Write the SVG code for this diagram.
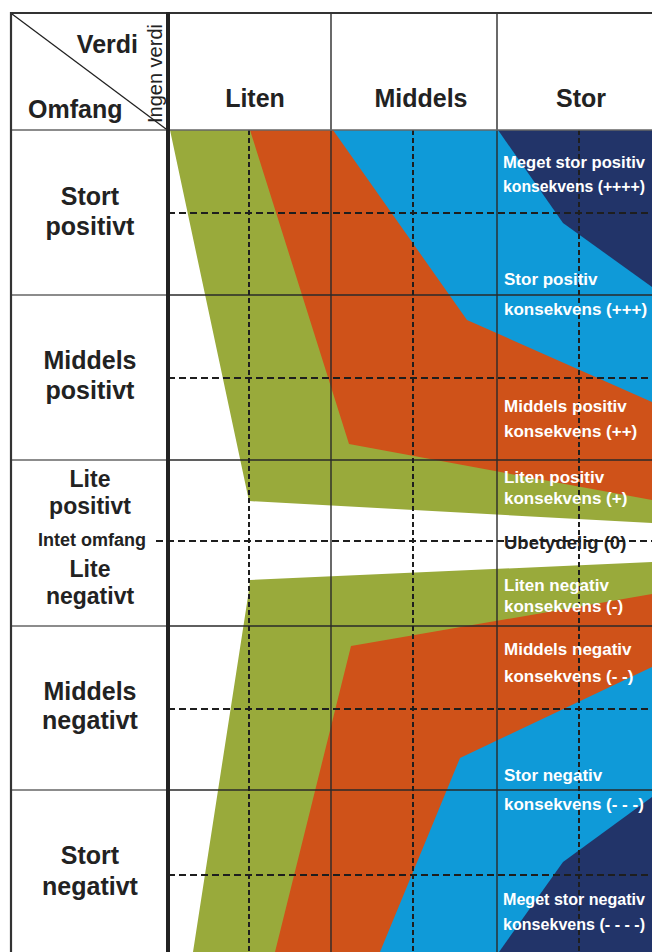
<svg xmlns="http://www.w3.org/2000/svg" width="652" height="952" viewBox="0 0 652 952">
<style>
.lbl{font-family:"Liberation Sans",Arial,sans-serif;font-weight:bold;font-size:25px;fill:#222;}
.sm{font-size:23px;}
.mid{text-anchor:middle;}
.cons{font-family:"Liberation Sans",Arial,sans-serif;font-weight:bold;font-size:17px;fill:#fff;}
.fit{font-size:16.5px;}
.sol{stroke:#2a2a2a;stroke-width:1.4;fill:none;}
.gry{stroke:#666;stroke-width:1.4;fill:none;}
.dh{stroke:#1e1e1e;stroke-width:2;stroke-dasharray:7 4;fill:none;}
.dv{stroke:#1e1e1e;stroke-width:2;stroke-dasharray:5 3;fill:none;}
</style>
<rect width="652" height="952" fill="#fff"/>
<g id="regions">
<rect x="168" y="130" width="484" height="822" fill="#0f9ad8"/>
<polygon points="498,130 652,130 652,287 563,223" fill="#223469"/>
<polygon points="652,797 652,952 499,952 563,862" fill="#223469"/>
<polygon points="168,130 333,130 467,320 652,402 652,667 460,758 380,952 168,952" fill="#cf5219"/>
<polygon points="168,130 250,130 349,444 652,500 652,594 351,646 275,952 168,952" fill="#99aa3b"/>
<polygon points="168,130 170,130 249,501 652,523 652,562 250,580 249,590 193,952 168,952" fill="#fff"/>
</g>
<g id="grid">
<line class="gry" x1="11" y1="295" x2="168" y2="295"/>
<line class="gry" x1="11" y1="460" x2="168" y2="460"/>
<line class="gry" x1="11" y1="626" x2="168" y2="626"/>
<line class="gry" x1="11" y1="790" x2="168" y2="790"/>
<line class="sol" x1="168" y1="295" x2="652" y2="295"/>
<line class="sol" x1="168" y1="460" x2="652" y2="460"/>
<line class="sol" x1="168" y1="626" x2="652" y2="626"/>
<line class="sol" x1="168" y1="790" x2="652" y2="790"/>
<line class="sol" x1="331" y1="13" x2="331" y2="952"/>
<line class="sol" x1="497" y1="13" x2="497" y2="952"/>
<line class="dh" x1="168" y1="213" x2="652" y2="213"/>
<line class="dh" x1="168" y1="378" x2="652" y2="378"/>
<line class="dh" x1="168" y1="709" x2="652" y2="709"/>
<line class="dh" x1="168" y1="875" x2="652" y2="875"/>
<line class="dv" x1="249" y1="130" x2="249" y2="952"/>
<line class="dv" x1="413" y1="130" x2="413" y2="952"/>
<line class="dv" x1="579" y1="130" x2="579" y2="952"/>
<line class="gry" x1="11" y1="130" x2="652" y2="130"/>
<line stroke="#333" stroke-width="2.2" x1="10" y1="13" x2="652" y2="13"/>
<line stroke="#333" stroke-width="2.2" x1="11" y1="12" x2="11" y2="952"/>
<line stroke="#222" stroke-width="1.3" x1="12" y1="14" x2="166" y2="129"/>
<line stroke="#222" stroke-width="4" x1="168" y1="12" x2="168" y2="952"/>
</g>
<g id="header">
<text class="lbl" x="138" y="53" text-anchor="end">Verdi</text>
<text class="lbl" x="28" y="118">Omfang</text>
<text font-family="Liberation Sans,Arial,sans-serif" font-size="20" fill="#222" transform="translate(162,123) rotate(-90)">Ingen verdi</text>
<text class="lbl mid" x="255" y="107">Liten</text>
<text class="lbl mid" x="421" y="107">Middels</text>
<text class="lbl mid" x="581" y="107">Stor</text>
</g>
<g id="rows">
<text class="lbl mid" x="90" y="205">Stort</text>
<text class="lbl mid" x="90" y="235">positivt</text>
<text class="lbl mid" x="90" y="369">Middels</text>
<text class="lbl mid" x="90" y="399">positivt</text>
<text class="lbl sm mid" x="90" y="487">Lite</text>
<text class="lbl sm mid" x="90" y="514">positivt</text>
<text class="lbl mid" x="92" y="546" style="font-size:18px">Intet omfang</text>
<text class="lbl sm mid" x="90" y="577">Lite</text>
<text class="lbl sm mid" x="90" y="604">negativt</text>
<text class="lbl mid" x="90" y="700">Middels</text>
<text class="lbl mid" x="90" y="729">negativt</text>
<text class="lbl mid" x="90" y="864">Stort</text>
<text class="lbl mid" x="90" y="895">negativt</text>
</g>
<g id="consequences">
<text class="cons fit" x="503" y="168" textLength="142" lengthAdjust="spacingAndGlyphs">Meget stor positiv</text>
<text class="cons fit" x="503" y="192" textLength="142" lengthAdjust="spacingAndGlyphs">konsekvens (++++)</text>
<text class="cons" x="504" y="285">Stor positiv</text>
<text class="cons" x="504" y="315">konsekvens (+++)</text>
<text class="cons" x="504" y="412">Middels positiv</text>
<text class="cons" x="504" y="437">konsekvens (++)</text>
<text class="cons" x="504" y="483">Liten positiv</text>
<text class="cons" x="504" y="504">konsekvens (+)</text>
<text class="cons" x="504" y="549" style="fill:#222;font-size:18.5px">Ubetydelig (0)</text>
<text class="cons" x="504" y="591">Liten negativ</text>
<text class="cons" x="504" y="612">konsekvens (-)</text>
<text class="cons" x="504" y="655">Middels negativ</text>
<text class="cons" x="504" y="682">konsekvens (- -)</text>
<text class="cons" x="504" y="781">Stor negativ</text>
<text class="cons" x="504" y="810">konsekvens (- - -)</text>
<text class="cons fit" x="503" y="905" textLength="142" lengthAdjust="spacingAndGlyphs">Meget stor negativ</text>
<text class="cons fit" x="503" y="930" textLength="142" lengthAdjust="spacingAndGlyphs">konsekvens (- - - -)</text>
</g>
<line class="dh" x1="156" y1="541" x2="652" y2="541"/>
</svg>
